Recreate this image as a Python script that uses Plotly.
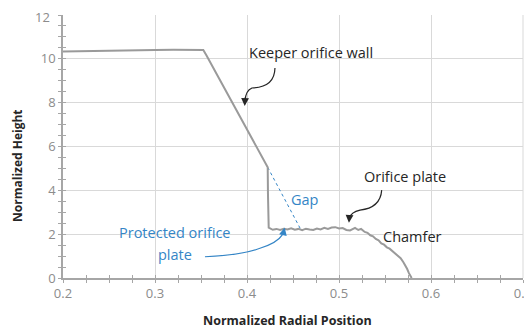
import plotly.graph_objects as go

# Profile data (normalized radial position vs normalized height)
radial_pos = [0.200, 0.220, 0.240, 0.260, 0.280, 0.300, 0.320, 0.340, 0.350, 0.3525,
              0.356, 0.4225,
              0.4228, 0.4232, 0.4236,
              0.428, 0.432, 0.436, 0.440, 0.444, 0.448, 0.452, 0.456, 0.460, 0.464,
              0.468, 0.472, 0.476, 0.480, 0.484, 0.488, 0.492, 0.496, 0.500, 0.504,
              0.508, 0.512, 0.5174, 0.521, 0.524,
              0.528, 0.531, 0.534, 0.537, 0.540, 0.543, 0.546, 0.549, 0.552, 0.555,
              0.558, 0.561, 0.564, 0.567, 0.570, 0.572, 0.574, 0.576, 0.578, 0.579]
height = [10.33, 10.35, 10.36, 10.38, 10.39, 10.40, 10.41, 10.41, 10.42, 10.40,
          10.15, 5.05,
          3.80, 2.60, 2.30,
          2.20, 2.24, 2.19, 2.25, 2.21, 2.27, 2.20, 2.24, 2.18, 2.25,
          2.21, 2.19, 2.26, 2.22, 2.29, 2.24, 2.30, 2.32, 2.26, 2.28,
          2.19, 2.17, 2.29, 2.19, 2.24,
          2.10, 2.06, 1.95, 1.90, 1.78, 1.72, 1.58, 1.52, 1.40, 1.34,
          1.22, 1.14, 1.00, 0.90, 0.72, 0.58, 0.42, 0.22, 0.05, 0.0]

# Extrapolated wall (gap)
gap_x = [0.4225, 0.458]
gap_y = [5.05, 2.25]

x_ticks = [0.2, 0.3, 0.4, 0.5, 0.6, 0.7]
x_tick_labels = ["0.2", "0.3", "0.4", "0.5", "0.6", "0.7"]
y_ticks = [0, 2, 4, 6, 8, 10, 12]
y_tick_labels = ["0", "2", "4", "6", "8", "10", ""]   # top label drawn separately
y_top_label = "12"

GRAY_LINE = "#9a9a9a"
BLUE = "#3485c6"
DARK = "#262626"
TICK = "#8c8c8c"
AXIS = "#a6a6a6"
FONT = "Open Sans"

fig = go.Figure()
fig.add_trace(go.Scatter(x=gap_x, y=gap_y, mode="lines",
                         line=dict(color=BLUE, width=1, dash="dot"),
                         hoverinfo="skip", showlegend=False))
fig.add_trace(go.Scatter(x=radial_pos, y=height, mode="lines",
                         line=dict(color=GRAY_LINE, width=2),
                         showlegend=False))
# invisible trace on overlay axes (for crossing tick marks)
fig.add_trace(go.Scatter(x=[0.2], y=[0], xaxis="x2", yaxis="y2", mode="markers",
                         marker=dict(opacity=0), hoverinfo="skip", showlegend=False))

# Curved callout arrows (paths in data coords)
fig.add_shape(type="path", xref="x", yref="y",
              path="M 0.4304,9.58 Q 0.4300,8.70 0.4054,8.67 Q 0.3985,8.55 0.3980,8.1",
              line=dict(color=DARK, width=1.2))
fig.add_annotation(x=0.3975, y=7.85, ax=0.3980, ay=8.3, axref="x", ayref="y",
                   xref="x", yref="y", text="", showarrow=True,
                   arrowhead=2, arrowsize=1.3, arrowwidth=1.2, arrowcolor=DARK)

fig.add_shape(type="path", xref="x", yref="y",
              path="M 0.5464,4.01 Q 0.5450,3.20 0.5228,3.10 Q 0.5130,3.00 0.5115,2.75",
              line=dict(color=DARK, width=1.2))
fig.add_annotation(x=0.5108, y=2.52, ax=0.5115, ay=2.9, axref="x", ayref="y",
                   xref="x", yref="y", text="", showarrow=True,
                   arrowhead=2, arrowsize=1.3, arrowwidth=1.2, arrowcolor=DARK)

fig.add_shape(type="path", xref="x", yref="y",
              path="M 0.3543,0.97 Q 0.3950,1.05 0.4141,1.355 Q 0.4330,1.60 0.4390,2.0",
              line=dict(color=BLUE, width=1.2))
fig.add_annotation(x=0.4410, y=2.30, ax=0.4390, ay=1.95, axref="x", ayref="y",
                   xref="x", yref="y", text="", showarrow=True,
                   arrowhead=2, arrowsize=1.3, arrowwidth=1.2, arrowcolor=BLUE)

# Text labels
def label(x, y, text, color, size=14.5):
    fig.add_annotation(x=x, y=y, xref="x", yref="y", text=text, showarrow=False,
                       font=dict(family=FONT, size=size, color=color),
                       xanchor="center", yanchor="middle")

label(0.4696, 10.27, "Keeper orifice wall", DARK)
label(0.5717, 4.65, "Orifice plate", DARK)
label(0.5800, 1.89, "Chamfer", DARK)
label(0.4630, 3.59, "Gap", BLUE)
label(0.3217, 2.06, "Protected orifice", BLUE)
label(0.3217, 1.07, "plate", BLUE)

# Top y tick label, nudged to stay inside the page
fig.add_annotation(x=0, y=y_ticks[-1], xref="paper", yref="y", text=y_top_label,
                   showarrow=False, xanchor="right", yanchor="middle",
                   xshift=-11, yshift=-2,
                   font=dict(family=FONT, size=13, color=TICK))

# Axis titles as annotations for exact placement
fig.add_annotation(x=0.488, y=-0.16, xref="paper", yref="paper",
                   text="<b>Normalized Radial Position</b>", showarrow=False,
                   font=dict(family=FONT, size=12.5, color=DARK),
                   xanchor="center", yanchor="middle")
fig.add_annotation(x=-0.098, y=0.426, xref="paper", yref="paper",
                   text="<b>Normalized Height</b>", showarrow=False, textangle=-90,
                   font=dict(family=FONT, size=12, color=DARK),
                   xanchor="center", yanchor="middle")

axis_common = dict(showgrid=True, gridcolor="#d9d9d9", gridwidth=1,
                   showline=True, linecolor=AXIS, linewidth=1.5,
                   ticks="outside", ticklen=3, tickcolor=AXIS,
                   zeroline=False, automargin=False, ticklabeloverflow="allow",
                   tickfont=dict(family=FONT, size=13, color=TICK))
overlay_common = dict(showgrid=False, showline=False, zeroline=False,
                      showticklabels=False, ticks="inside", ticklen=3,
                      tickcolor=AXIS, automargin=False)

# The page body has an 8px default margin, so the figure is offset by 8px.
fig.update_layout(
    width=524, height=321,
    margin=dict(l=55, r=9, t=7, b=51),
    paper_bgcolor="white", plot_bgcolor="white",
    font=dict(family=FONT, color=TICK, size=13),
    xaxis=dict(range=[0.2, 0.7], tickvals=x_ticks, ticktext=x_tick_labels,
               minor=dict(dtick=0.025, ticks="outside", ticklen=3, tickcolor=AXIS, showgrid=False),
               **axis_common),
    yaxis=dict(range=[0, 12], tickvals=y_ticks, ticktext=y_tick_labels,
               minor=dict(dtick=0.5, ticks="outside", ticklen=3, tickcolor=AXIS, showgrid=False),
               **axis_common),
    xaxis2=dict(range=[0.2, 0.7], overlaying="x", anchor="y2", side="bottom",
                tickvals=x_ticks,
                minor=dict(dtick=0.025, ticks="inside", ticklen=3, tickcolor=AXIS),
                **overlay_common),
    yaxis2=dict(range=[0, 12], overlaying="y", anchor="x2", side="left",
                tickvals=y_ticks,
                minor=dict(dtick=0.5, ticks="inside", ticklen=3, tickcolor=AXIS),
                **overlay_common),
)
fig.add_shape(type="line", xref="paper", yref="paper", x0=1, x1=1, y0=0, y1=1,
              line=dict(color="#d9d9d9", width=1))

fig.write_html("out.html")
